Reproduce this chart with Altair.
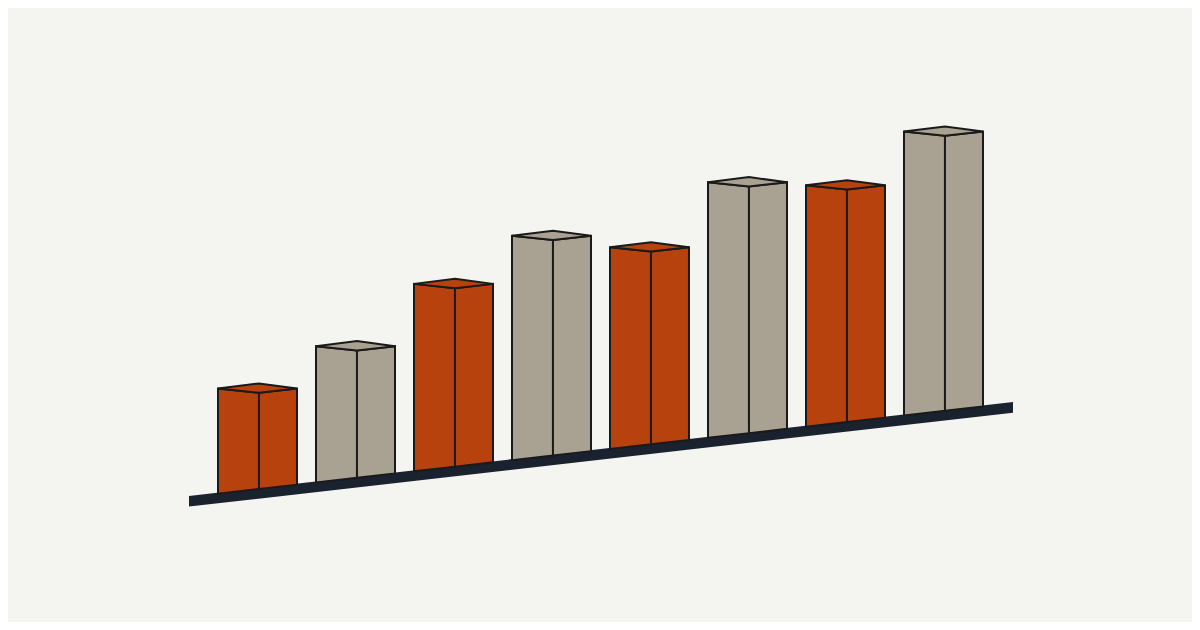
import altair as alt
import pandas as pd

# ---- data ----
categories = ["1", "2", "3", "4", "5", "6", "7", "8"]
values = [37, 48, 66, 79, 71, 90, 85, 100]
series = ["orange", "gray", "orange", "gray", "orange", "gray", "orange", "gray"]

# ---- style / geometry constants ----
palette = {"orange": "#b7420e", "gray": "#a9a293"}
EDGE = "#1b1a1a"
BASE_COLOR = "#1a2230"
BG = "#f4f4f0"
BAR_W = 0.806      # bar width in slot units
MID = 0.418        # position of the front (middle) edge
TILT = 3.93        # rise of the ground line per slot
FRONT = 1.5        # front vertex drop of the top face
BACK = 1.8         # back vertex rise of the top face
BASE_THICK = 3.75  # ground line thickness (y units)
BASE_X = [-0.296, 8.112]


def ground(x):
    return TILT * x


rows = []
for i, (cat, v, s) in enumerate(zip(categories, values, series)):
    L, M, R = i, i + MID, i + BAR_W
    top = ground(L) + v
    col = palette[s]
    pts = [
        ("l", L, top, ground(L)),
        ("l", M, top - FRONT, ground(M)),
        ("r", M, top - FRONT, ground(M)),
        ("r", R, top, ground(R)),
        ("t", L, top, top),
        ("t", M, top + BACK, top - FRONT),
        ("t", R, top, top),
    ]
    for face, x, y, y2 in pts:
        rows.append(dict(cat=cat, face=f"{cat}-{face}", x=x, y=y, y2=y2, fill=col))
bars = pd.DataFrame(rows)

base = pd.DataFrame({
    "x": BASE_X,
    "y": [ground(x) + 0.35 for x in BASE_X],
    "y2": [ground(x) + 0.35 - BASE_THICK for x in BASE_X],
})

xs = alt.Scale(domain=[-2.1429, 9.9388], nice=False, zero=False)
ys = alt.Scale(domain=[-45.2, 171.0], nice=False, zero=False)

ground_layer = alt.Chart(base).mark_area(color=BASE_COLOR).encode(
    x=alt.X("x:Q", scale=xs, axis=None),
    y=alt.Y("y:Q", scale=ys, axis=None, stack=None),
    y2="y2:Q",
)

bar_layer = alt.Chart(bars).mark_area(
    stroke=EDGE, strokeWidth=2, strokeJoin="miter", fillOpacity=1
).encode(
    x=alt.X("x:Q", scale=xs, axis=None),
    y=alt.Y("y:Q", scale=ys, axis=None, stack=None),
    y2="y2:Q",
    detail="face:N",
    fill=alt.Fill("fill:N", scale=None),
)

chart = (
    alt.layer(ground_layer, bar_layer)
    .properties(width=1184, height=614, padding=0, autosize="none", background=BG)
    .configure_view(stroke=None)
)

chart.save("out.html", embed_options={"renderer": "svg", "actions": False})
